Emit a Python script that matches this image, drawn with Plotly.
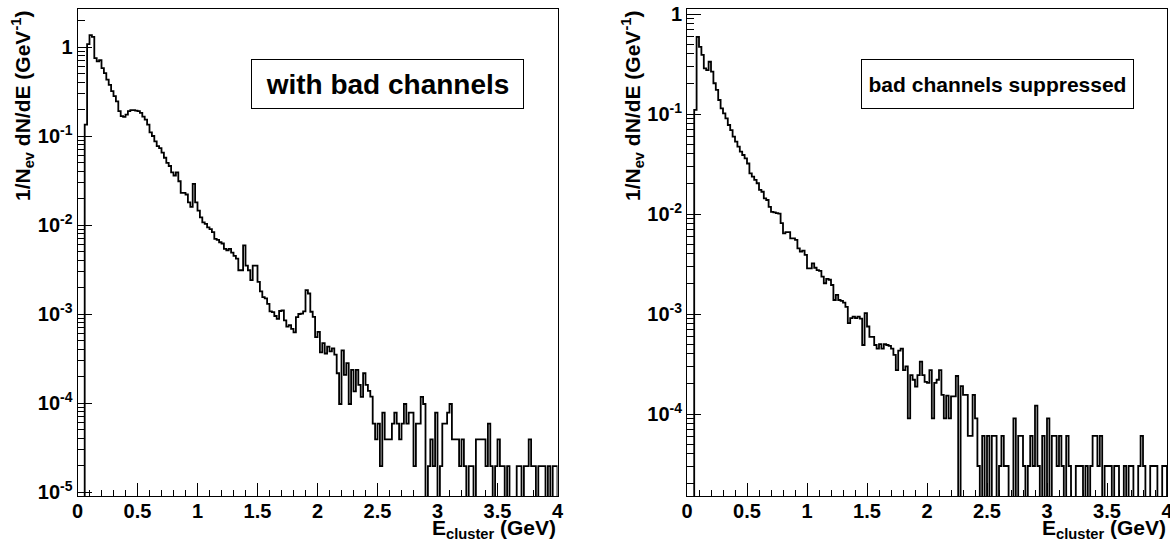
import plotly.graph_objects as go

# ---------------- data ----------------
N_BINS = 200
E_MIN = 0.0
E_MAX = 4.0

# 1/Nev dN/dE, left panel: with bad channels (bins of 0.02 GeV from 0 to 4 GeV)
with_bad = [
    0, 0, 0, 0.134, 1.08, 1.36, 1.30, 0.75, 0.69, 0.71,
    0.58, 0.51, 0.43, 0.376, 0.32, 0.28, 0.245, 0.19, 0.167, 0.164,
    0.174, 0.19, 0.195, 0.195, 0.193, 0.19, 0.182, 0.165, 0.153, 0.134,
    0.11, 0.10, 0.087, 0.077, 0.073, 0.065, 0.057, 0.05, 0.046, 0.039,
    0.036, 0.039, 0.031, 0.023, 0.023, 0.022, 0.018, 0.016, 0.029, 0.018,
    0.0145, 0.0122, 0.0107, 0.0103, 0.0094, 0.009, 0.0083, 0.007, 0.0068, 0.0064,
    0.0062, 0.0054, 0.0052, 0.0054, 0.0049, 0.0045, 0.0042, 0.0031, 0.0031, 0.0059,
    0.0035, 0.0031, 0.0024, 0.0035, 0.0035, 0.0023, 0.0018, 0.00155, 0.0015, 0.0013,
    0.00107, 0.00105, 0.00095, 0.00088, 0.00108, 0.0011, 0.00085, 0.00072, 0.00075, 0.00068,
    0.00062, 0.00092, 0.001, 0.00101, 0.00107, 0.00185, 0.0017, 0.00106, 0.00093, 0.00055,
    0.00063, 0.00037, 0.00047, 0.00036, 0.00043, 0.00038, 0.00041, 0.00035, 0.000216, 0.0000975,
    0.00039, 0.000207, 0.00028, 0.0000975, 0.000236, 0.000135, 0.000236, 0.00016, 0.000117, 0.000216,
    0.00016, 0.000137, 0.000118, 0.0000585, 0.000039, 0.0000585, 0.0000195, 0.000078, 0.000039, 0.000039,
    0.000039, 0.0000585, 0.000078, 0.0000585, 0.000039, 0.0000585, 0.0000975, 0.0000585, 0.000078, 0.000078,
    0.0000195, 0.0000585, 0.0000585, 0.000117, 0.0000975, 0, 0.0000195, 0.000039, 0.0000195, 0.000078,
    0, 0.0000195, 0.0000585, 0.0000585, 0.000078, 0.0000975, 0.000039, 0.000039, 0.000039, 0.0000195,
    0.000039, 0.0000195, 0, 0.0000195, 0.0000195, 0, 0.000039, 0.000039, 0.000039, 0.000039,
    0.0000195, 0.0000585, 0.0000195, 0, 0.0000195, 0.000039, 0.0000195, 0.0000195, 0, 0.0000195,
    0, 0, 0, 0.0000195, 0.0000195, 0, 0.0000195, 0.0000195, 0.000039, 0.0000195,
    0.0000195, 0, 0.0000195, 0.0000195, 0.0000195, 0, 0.0000195, 0, 0.0000195, 0.0000195,
]

# right panel: bad channels suppressed
suppressed = [
    0, 0, 0, 0.11, 0.59, 0.47, 0.39, 0.286, 0.275, 0.333,
    0.265, 0.203, 0.174, 0.138, 0.114, 0.1015, 0.0906, 0.0776, 0.069, 0.0593,
    0.0529, 0.0471, 0.042, 0.0389, 0.036, 0.032, 0.0255, 0.0236, 0.0219, 0.0203,
    0.0174, 0.0167, 0.0143, 0.0138, 0.0118, 0.0105, 0.0104, 0.0102, 0.0101, 0.0081,
    0.0064, 0.0066, 0.0066, 0.0057, 0.0057, 0.0055, 0.00454, 0.0042, 0.0043, 0.0039,
    0.00286, 0.00286, 0.00321, 0.0029, 0.00275, 0.0027, 0.00236, 0.00203, 0.00225, 0.0022,
    0.00195, 0.00138, 0.00155, 0.00138, 0.00135, 0.0013, 0.00118, 0.00081, 0.00091, 0.00094,
    0.00091, 0.00094, 0.0009, 0.00049, 0.00102, 0.00075, 0.00059, 0.00059, 0.00049, 0.00045,
    0.0005, 0.00045, 0.0005, 0.00049, 0.00048, 0.00045, 0.00039, 0.000275, 0.00043, 0.00045,
    0.000275, 0.0003, 0.0000905, 0.000245, 0.00022, 0.000188, 0.000245, 0.000334, 0.000245, 0.00021,
    0.000205, 0.000275, 0.0000905, 0.000205, 0.00022, 0.000275, 0.000155, 0.0000905, 0.000153, 0.0000905,
    0.00015, 0.00015, 0.00024, 0, 0.00019, 0.000155, 0.000155, 0.0000604, 0.0000604, 0.000155,
    0.0000906, 0.0000302, 0, 0.0000604, 0, 0.0000604, 0, 0.0000604, 0.0000604, 0,
    0.0000302, 0.0000604, 0.0000302, 0.0000302, 0, 0, 0.0000906, 0, 0.0000604, 0.0000604,
    0.0000302, 0, 0.0000302, 0.0000604, 0.0000302, 0.000121, 0.0000302, 0, 0.0000604, 0,
    0.0000906, 0, 0.0000604, 0.0000604, 0.0000302, 0.0000604, 0.0000302, 0, 0.0000604, 0.0000302,
    0, 0, 0.0000302, 0.0000302, 0.0000302, 0, 0.0000302, 0, 0.0000302, 0.0000604,
    0.0000604, 0.0000302, 0.0000604, 0, 0.0000302, 0.0000302, 0.0000302, 0, 0.0000302, 0.0000302,
    0, 0, 0.0000302, 0, 0.0000302, 0.0000302, 0, 0, 0.0000302, 0.0000604,
    0.0000302, 0, 0, 0.0000302, 0.0000302, 0.0000302, 0, 0, 0.0000302, 0.0000302,
]

y_tick_vals_left = [1e-5, 1e-4, 1e-3, 1e-2, 1e-1, 1]
y_tick_text_left = ["10<sup>-5</sup>", "10<sup>-4</sup>", "10<sup>-3</sup>",
                    "10<sup>-2</sup>", "10<sup>-1</sup>", "1"]
y_tick_vals_right = [1e-4, 1e-3, 1e-2, 1e-1, 1]
y_tick_text_right = ["10<sup>-4</sup>", "10<sup>-3</sup>", "10<sup>-2</sup>",
                     "10<sup>-1</sup>", "1"]

label_left = "with bad channels"
label_right = "bad channels suppressed"
y_title = "1/N<sub>ev</sub> dN/dE (GeV<sup>-1</sup>)"
x_title = "E<sub>cluster</sub> (GeV)"

# ---------------- figure ----------------
W, H = 1170, 539
FONT = "Liberation Sans, Arial, Helvetica, sans-serif"
FLOOR = 1e-9  # empty bins are drawn below the axis minimum

bw = (E_MAX - E_MIN) / N_BINS
edges = [E_MIN + i * bw for i in range(N_BINS + 1)]


def step_xy(vals):
    xs = edges[:-1] + [E_MAX, E_MAX]
    ys = [v if v > 0 else FLOOR for v in vals]
    ys = ys + [ys[-1], FLOOR]
    return xs, ys


fig = go.Figure()
for vals, xa, ya in [(with_bad, "x", "y"), (suppressed, "x2", "y2")]:
    xs, ys = step_xy(vals)
    fig.add_trace(go.Scatter(x=xs, y=ys, mode="lines", xaxis=xa, yaxis=ya,
                             line=dict(color="black", width=1.8, shape="hv"),
                             showlegend=False, hoverinfo="skip"))


def px_x(p):
    return p / W


def px_y(p):
    return 1 - p / H


top_px, bot_px = 9, 496
left_dom = [px_x(77.5), px_x(557.5)]
right_dom = [px_x(687), px_x(1167)]
y_dom = [px_y(bot_px), px_y(top_px)]

tickfont = dict(family=FONT, size=20, color="black", weight="bold")


def minor_log(lo, hi):
    out = []
    for d in range(lo, hi + 1):
        for k in range(2, 10):
            out.append(k * 10 ** d)
    return out


common_x = dict(range=[E_MIN, E_MAX], showline=True, mirror=True, linecolor="black",
                linewidth=1, ticks="inside", ticklen=13, tickwidth=1, tickcolor="black",
                tick0=0, dtick=0.5, showgrid=False, zeroline=False, tickfont=tickfont,
                automargin=False, ticklabeloverflow="allow", ticklabelstandoff=-3,
                minor=dict(ticks="inside", ticklen=6, dtick=0.1, tick0=0,
                           tickcolor="black", tickwidth=1, showgrid=False))


def y_axis(dom_anchor, rng, tv, tt):
    return dict(domain=y_dom, anchor=dom_anchor, type="log", range=rng,
                tickmode="array", tickvals=tv, ticktext=tt,
                showline=True, mirror=True, linecolor="black", linewidth=1,
                ticks="inside", ticklen=14, tickwidth=1, tickcolor="black",
                showgrid=False, zeroline=False, tickfont=tickfont, automargin=False,
                ticklabeloverflow="allow",
                minor=dict(ticks="inside", ticklen=7, tickcolor="black", tickwidth=1,
                           tickmode="array", tickvals=minor_log(-6, 0), showgrid=False))


fig.update_layout(
    width=W, height=H, autosize=False,
    margin=dict(l=0, r=0, t=0, b=0, autoexpand=False),
    paper_bgcolor="white", plot_bgcolor="white",
    xaxis=dict(domain=left_dom, anchor="y", **common_x),
    xaxis2=dict(domain=right_dom, anchor="y2", **common_x),
    yaxis=y_axis("x", [-5.045, 0.427], y_tick_vals_left, y_tick_text_left),
    yaxis2=y_axis("x2", [-4.82, 0.05], y_tick_vals_right, y_tick_text_right),
)

title_font = dict(family=FONT, size=21, color="black", weight="bold")
annotations = [
    # y titles
    dict(x=px_x(23), y=px_y(9), xref="paper", yref="paper", text=y_title,
         textangle=-90, xanchor="center", yanchor="top", showarrow=False, font=title_font),
    dict(x=px_x(633), y=px_y(9), xref="paper", yref="paper", text=y_title,
         textangle=-90, xanchor="center", yanchor="top", showarrow=False, font=title_font),
    # x titles
    dict(x=px_x(558), y=px_y(514), xref="paper", yref="paper", text=x_title,
         xanchor="right", yanchor="top", showarrow=False, font=title_font),
    dict(x=px_x(1168), y=px_y(514), xref="paper", yref="paper", text=x_title,
         xanchor="right", yanchor="top", showarrow=False, font=title_font),
    # labels in boxes
    dict(x=px_x(387.5), y=px_y(84), xref="paper", yref="paper", text=label_left,
         xanchor="center", yanchor="middle", showarrow=False,
         font=dict(family=FONT, size=28, color="black", weight="bold"),
         bordercolor="black", borderwidth=1, borderpad=0, bgcolor="white",
         width=271, height=48),
    dict(x=px_x(997.5), y=px_y(84), xref="paper", yref="paper", text=label_right,
         xanchor="center", yanchor="middle", showarrow=False,
         font=dict(family=FONT, size=21, color="black", weight="bold"),
         bordercolor="black", borderwidth=1, borderpad=0, bgcolor="white",
         width=271, height=48),
]
fig.update_layout(annotations=annotations)

fig.write_html("out.html", config={"displayModeBar": False},
               post_script="document.body.style.margin='0px';")
